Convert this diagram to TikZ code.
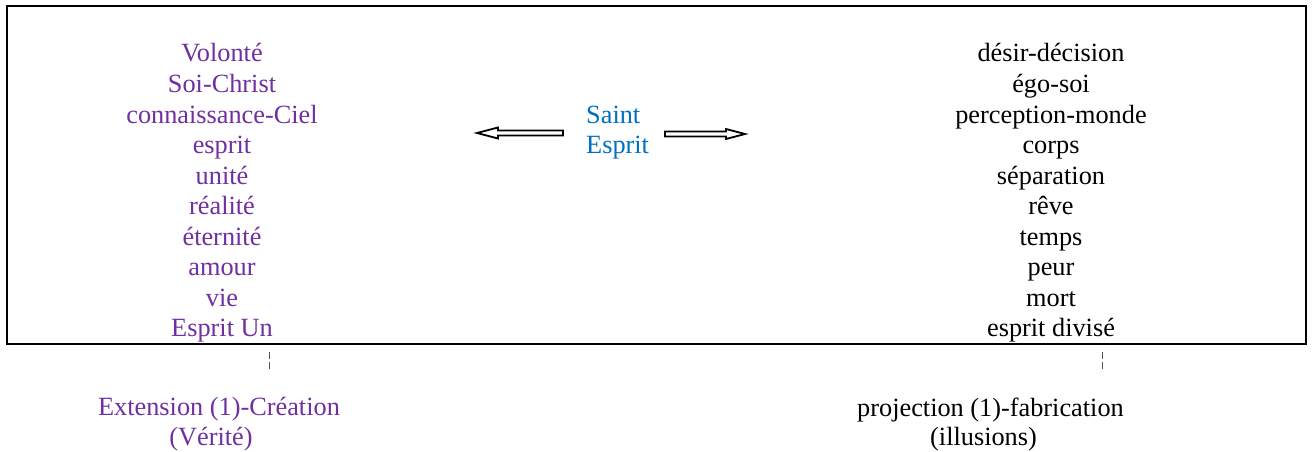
\documentclass[tikz,border=0pt]{standalone}
\usepackage{fontspec}
\setmainfont{Liberation Serif}
\definecolor{vpurple}{HTML}{7030A0}
\definecolor{vblue}{HTML}{0070C0}
\definecolor{dashgray}{HTML}{555555}
\tikzset{
  word/.style={font=\fontsize{26.3}{30.5}\selectfont, inner sep=0pt, anchor=base},
  leftword/.style={word, text=vpurple},
  rightword/.style={word, text=black},
  holy/.style={word, text=vblue, anchor=base west},
  frame/.style={draw=black, line width=2pt},
  blockarrow/.style={draw=black, line width=1.8pt, fill=white, line join=miter},
  tick/.style={draw=dashgray, line width=1pt, dash pattern=on 7pt off 3pt}
}
\begin{document}
\begin{tikzpicture}[x=1pt,y=-1pt]
\useasboundingbox (0,0) rectangle (1314,452);
\fill[white] (0,0) rectangle (1314,452);
\draw[frame] (7,6) rectangle (1306,344);
% left column
\foreach \t [count=\i from 0] in {Volonté,Soi-Christ,connaissance-Ciel,esprit,unité,réalité,éternité,amour,vie,Esprit Un}
  \node[leftword] (l\i) at (222,62+30.5*\i) {\t};
% right column
\foreach \t [count=\i from 0] in {désir-décision,égo-soi,perception-monde,corps,séparation,rêve,temps,peur,mort,esprit divisé}
  \node[rightword] (r\i) at (1051,62+30.5*\i) {\t};
% centre
\node[holy] (saint) at (586,123) {Saint};
\node[holy] (esprit) at (586,153.5) {Esprit};
\draw[blockarrow] (563,130.5) -- (498,130.5) -- (498,127.5) -- (477,133) -- (498,138.5) -- (498,135.5) -- (563,135.5) -- cycle;
\draw[blockarrow] (665,131.5) -- (726,131.5) -- (726,129) -- (745,134) -- (726,139) -- (726,136.5) -- (665,136.5) -- cycle;
% ticks
\coordinate (lt1) at (269,352);
\coordinate (lt2) at (269,370);
\coordinate (rt1) at (1102,352);
\coordinate (rt2) at (1102,370);
\draw[tick] (lt1) -- (lt2);
\draw[tick] (rt1) -- (rt2);
% bottom
\node[leftword] (ext) at (219,415.5) {Extension (1)-Création};
\node[leftword] (ver) at (211,445) {(Vérité)};
\node[rightword] (proj) at (990.5,416) {projection (1)-fabrication};
\node[rightword] (ill) at (983.5,445) {(illusions)};
\end{tikzpicture}
\end{document}
